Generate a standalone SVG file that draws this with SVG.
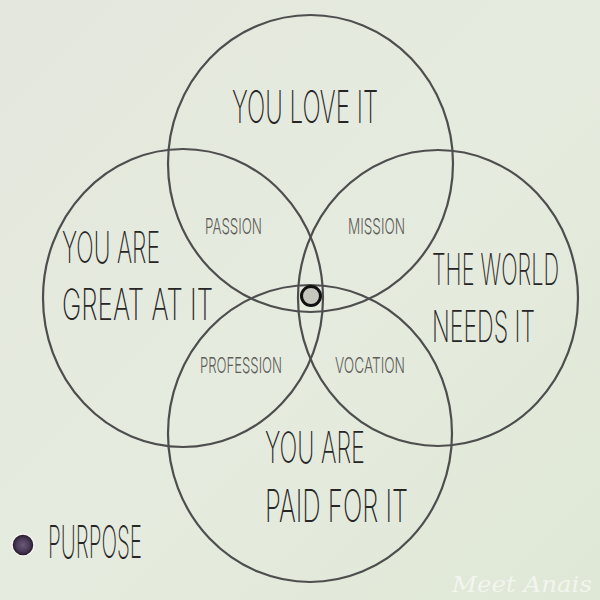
<svg xmlns="http://www.w3.org/2000/svg" width="600" height="600" viewBox="0 0 600 600">
  <defs>
    <linearGradient id="bg" x1="0" y1="0" x2="1" y2="1">
      <stop offset="0" stop-color="#e3e7dd"/>
      <stop offset="0.5" stop-color="#e6ebdf"/>
      <stop offset="1" stop-color="#dfe8d6"/>
    </linearGradient>
    <radialGradient id="pdot" cx="0.5" cy="0.5" r="0.5">
      <stop offset="0" stop-color="#6a5a78"/>
      <stop offset="0.6" stop-color="#4a3a58"/>
      <stop offset="1" stop-color="#1e1224"/>
    </radialGradient>
  </defs>
  <style>
    .ring { fill: none; stroke: #4e4e4e; stroke-width: 2.2; }
    .big { font-family: Inter, "DejaVu Sans", sans-serif; font-weight: 200; fill: #262626; }
    .small { font-family: Inter, "DejaVu Sans", sans-serif; font-weight: 300; fill: #5e5e5a; }
  </style>
  <rect width="600" height="600" fill="url(#bg)"/>

  <g id="you-love-it">
    <ellipse class="ring" cx="310.5" cy="163.5" rx="142.5" ry="148.5"/>
    <text class="big" x="232" y="123" font-size="45" textLength="146" lengthAdjust="spacingAndGlyphs">YOU LOVE IT</text>
  </g>
  <g id="you-are-great-at-it">
    <ellipse class="ring" cx="183" cy="298" rx="140" ry="149"/>
    <text class="big" x="62" y="263" font-size="43" textLength="98" lengthAdjust="spacingAndGlyphs">YOU ARE</text>
    <text class="big" x="62" y="320" font-size="43" textLength="151" lengthAdjust="spacingAndGlyphs">GREAT AT IT</text>
  </g>
  <g id="the-world-needs-it">
    <ellipse class="ring" cx="438" cy="298" rx="140" ry="148"/>
    <text class="big" x="432" y="285" font-size="43" textLength="127" lengthAdjust="spacingAndGlyphs">THE WORLD</text>
    <text class="big" x="432" y="342" font-size="43" textLength="103" lengthAdjust="spacingAndGlyphs">NEEDS IT</text>
  </g>
  <g id="you-are-paid-for-it">
    <ellipse class="ring" cx="310" cy="433.5" rx="142" ry="148.5"/>
    <text class="big" x="265" y="463" font-size="43" textLength="100" lengthAdjust="spacingAndGlyphs">YOU ARE</text>
    <text class="big" x="265" y="522" font-size="45" textLength="143" lengthAdjust="spacingAndGlyphs">PAID FOR IT</text>
  </g>

  <g id="passion">
    <text class="small" x="205" y="234" font-size="22" textLength="57" lengthAdjust="spacingAndGlyphs">PASSION</text>
  </g>
  <g id="mission">
    <text class="small" x="348" y="234" font-size="22" textLength="57" lengthAdjust="spacingAndGlyphs">MISSION</text>
  </g>
  <g id="profession">
    <text class="small" x="200" y="373" font-size="22" textLength="82" lengthAdjust="spacingAndGlyphs">PROFESSION</text>
  </g>
  <g id="vocation">
    <text class="small" x="335" y="373" font-size="22" textLength="70" lengthAdjust="spacingAndGlyphs">VOCATION</text>
  </g>

  <g id="purpose-center">
    <circle cx="311" cy="296" r="9.5" fill="#c5c6be" stroke="#111" stroke-width="3"/>
  </g>

  <g id="legend-purpose">
    <circle cx="23" cy="545" r="11" fill="url(#pdot)" stroke="#f4f4ee" stroke-width="1.5"/>
    <text class="big" x="48" y="558" font-size="45" textLength="94" lengthAdjust="spacingAndGlyphs">PURPOSE</text>
  </g>

  <text x="452" y="592" font-family="'DejaVu Serif', serif" font-style="italic" font-size="22" fill="#ffffff" fill-opacity="0.6" textLength="140" lengthAdjust="spacingAndGlyphs">Meet Anais</text>
</svg>
